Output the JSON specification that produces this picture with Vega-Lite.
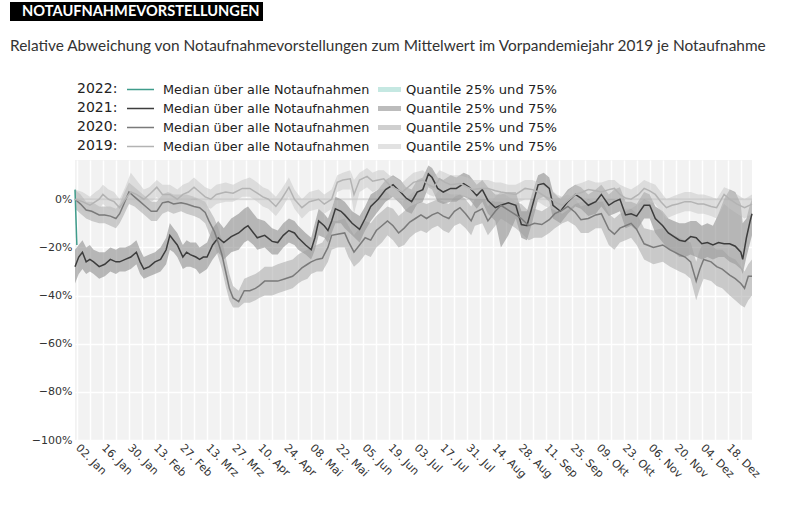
{
  "$schema": "https://vega.github.io/schema/vega-lite/v6.json",
  "background": "#ffffff",
  "padding": {"left": 10, "top": 2, "right": 5, "bottom": 5},
  "width": 677,
  "height": 280,
  "view": {"fill": "#f2f2f2", "stroke": null},
  "title": {
    "text": "Relative Abweichung von Notaufnahmevorstellungen zum Mittelwert im Vorpandemiejahr 2019 je Notaufnahme",
    "anchor": "start", "frame": "bounds", "font": "Lato", "fontSize": 15.4, "fontWeight": "normal", "color": "#333333", "offset": -52
  },
  "datasets": {
    "rows": [
      {"jahr": "2022", "tag": 1, "median": 4, "q25": 2, "q75": 6},
      {"jahr": "2022", "tag": 2, "median": -19, "q25": -21, "q75": -17},

      {"jahr": "2021", "tag": 1, "median": -28, "q25": -35, "q75": -21},
      {"jahr": "2021", "tag": 3, "median": -24, "q25": -31, "q75": -19},
      {"jahr": "2021", "tag": 5, "median": -22, "q25": -29, "q75": -17},
      {"jahr": "2021", "tag": 7, "median": -26, "q25": -31, "q75": -20},
      {"jahr": "2021", "tag": 9, "median": -25, "q25": -30, "q75": -19},
      {"jahr": "2021", "tag": 11, "median": -26, "q25": -31, "q75": -21},
      {"jahr": "2021", "tag": 14, "median": -28, "q25": -33, "q75": -22},
      {"jahr": "2021", "tag": 17, "median": -27, "q25": -32, "q75": -22},
      {"jahr": "2021", "tag": 20, "median": -25, "q25": -30, "q75": -20},
      {"jahr": "2021", "tag": 23, "median": -26, "q25": -31, "q75": -21},
      {"jahr": "2021", "tag": 25, "median": -26, "q25": -30, "q75": -20},
      {"jahr": "2021", "tag": 28, "median": -25, "q25": -30, "q75": -20},
      {"jahr": "2021", "tag": 31, "median": -24, "q25": -29, "q75": -19},
      {"jahr": "2021", "tag": 34, "median": -22, "q25": -27, "q75": -17},
      {"jahr": "2021", "tag": 36, "median": -26, "q25": -31, "q75": -21},
      {"jahr": "2021", "tag": 38, "median": -29, "q25": -33, "q75": -24},
      {"jahr": "2021", "tag": 41, "median": -28, "q25": -32, "q75": -23},
      {"jahr": "2021", "tag": 44, "median": -26, "q25": -31, "q75": -22},
      {"jahr": "2021", "tag": 47, "median": -25, "q25": -30, "q75": -20},
      {"jahr": "2021", "tag": 50, "median": -21, "q25": -27, "q75": -16},
      {"jahr": "2021", "tag": 52, "median": -15, "q25": -21, "q75": -10},
      {"jahr": "2021", "tag": 54, "median": -17, "q25": -22, "q75": -12},
      {"jahr": "2021", "tag": 56, "median": -19, "q25": -24, "q75": -14},
      {"jahr": "2021", "tag": 59, "median": -24, "q25": -29, "q75": -19},
      {"jahr": "2021", "tag": 61, "median": -22, "q25": -28, "q75": -17},
      {"jahr": "2021", "tag": 63, "median": -23, "q25": -28, "q75": -18},
      {"jahr": "2021", "tag": 66, "median": -24, "q25": -29, "q75": -18},
      {"jahr": "2021", "tag": 68, "median": -25, "q25": -31, "q75": -20},
      {"jahr": "2021", "tag": 70, "median": -24, "q25": -30, "q75": -19},
      {"jahr": "2021", "tag": 72, "median": -24, "q25": -29, "q75": -18},
      {"jahr": "2021", "tag": 75, "median": -19, "q25": -25, "q75": -12},
      {"jahr": "2021", "tag": 78, "median": -16, "q25": -22, "q75": -9},
      {"jahr": "2021", "tag": 81, "median": -18, "q25": -25, "q75": -12},
      {"jahr": "2021", "tag": 85, "median": -15.5, "q25": -22, "q75": -8},
      {"jahr": "2021", "tag": 89, "median": -14, "q25": -21, "q75": -6},
      {"jahr": "2021", "tag": 92, "median": -12, "q25": -18, "q75": -4},
      {"jahr": "2021", "tag": 94, "median": -11, "q25": -17, "q75": -3},
      {"jahr": "2021", "tag": 97, "median": -14, "q25": -19, "q75": -6},
      {"jahr": "2021", "tag": 99, "median": -16, "q25": -21, "q75": -8},
      {"jahr": "2021", "tag": 103, "median": -15, "q25": -20, "q75": -9},
      {"jahr": "2021", "tag": 107, "median": -17.5, "q25": -23, "q75": -12},
      {"jahr": "2021", "tag": 110, "median": -18, "q25": -23, "q75": -13},
      {"jahr": "2021", "tag": 113, "median": -15, "q25": -20, "q75": -10},
      {"jahr": "2021", "tag": 116, "median": -13, "q25": -18, "q75": -8},
      {"jahr": "2021", "tag": 119, "median": -14, "q25": -19, "q75": -9},
      {"jahr": "2021", "tag": 121, "median": -16, "q25": -21, "q75": -11},
      {"jahr": "2021", "tag": 125, "median": -19, "q25": -23, "q75": -14},
      {"jahr": "2021", "tag": 128, "median": -21, "q25": -25, "q75": -16},
      {"jahr": "2021", "tag": 130, "median": -16, "q25": -21, "q75": -10},
      {"jahr": "2021", "tag": 132, "median": -9, "q25": -15, "q75": -4},
      {"jahr": "2021", "tag": 135, "median": -11, "q25": -16, "q75": -6},
      {"jahr": "2021", "tag": 137, "median": -13, "q25": -18, "q75": -8},
      {"jahr": "2021", "tag": 139, "median": -9, "q25": -14, "q75": -4},
      {"jahr": "2021", "tag": 141, "median": -4, "q25": -10, "q75": 1},
      {"jahr": "2021", "tag": 144, "median": -5, "q25": -10, "q75": 0},
      {"jahr": "2021", "tag": 146, "median": -6.5, "q25": -12, "q75": -1},
      {"jahr": "2021", "tag": 150, "median": -10, "q25": -15, "q75": -5},
      {"jahr": "2021", "tag": 154, "median": -12.5, "q25": -18, "q75": -7},
      {"jahr": "2021", "tag": 157, "median": -8, "q25": -13, "q75": -3},
      {"jahr": "2021", "tag": 160, "median": -3, "q25": -9, "q75": 2},
      {"jahr": "2021", "tag": 164, "median": 0, "q25": -5, "q75": 4},
      {"jahr": "2021", "tag": 168, "median": 4, "q25": -1, "q75": 8},
      {"jahr": "2021", "tag": 172, "median": 6, "q25": 1, "q75": 10},
      {"jahr": "2021", "tag": 176, "median": 3, "q25": -2, "q75": 8},
      {"jahr": "2021", "tag": 179, "median": 0.5, "q25": -5, "q75": 5},
      {"jahr": "2021", "tag": 182, "median": -1, "q25": -6, "q75": 4},
      {"jahr": "2021", "tag": 185, "median": 3, "q25": -2, "q75": 8},
      {"jahr": "2021", "tag": 188, "median": 4, "q25": -1, "q75": 9},
      {"jahr": "2021", "tag": 191, "median": 10.5, "q25": 5, "q75": 14},
      {"jahr": "2021", "tag": 193, "median": 9, "q25": 4, "q75": 13},
      {"jahr": "2021", "tag": 196, "median": 4.5, "q25": -1, "q75": 9},
      {"jahr": "2021", "tag": 199, "median": 3, "q25": -2, "q75": 8},
      {"jahr": "2021", "tag": 203, "median": 4.5, "q25": -1, "q75": 10},
      {"jahr": "2021", "tag": 206, "median": 4.5, "q25": -1, "q75": 9},
      {"jahr": "2021", "tag": 210, "median": 6.5, "q25": 1, "q75": 11},
      {"jahr": "2021", "tag": 213, "median": 5, "q25": 0, "q75": 10},
      {"jahr": "2021", "tag": 217, "median": 1.5, "q25": -4, "q75": 6},
      {"jahr": "2021", "tag": 220, "median": 4, "q25": -1, "q75": 8},
      {"jahr": "2021", "tag": 223, "median": -0.5, "q25": -6, "q75": 5},
      {"jahr": "2021", "tag": 227, "median": -3.5, "q25": -9, "q75": 2},
      {"jahr": "2021", "tag": 230, "median": -2.5, "q25": -20, "q75": 2},
      {"jahr": "2021", "tag": 234, "median": -1.5, "q25": -15, "q75": 3},
      {"jahr": "2021", "tag": 238, "median": -2.5, "q25": -8, "q75": 3},
      {"jahr": "2021", "tag": 241, "median": -10.5, "q25": -16, "q75": -5},
      {"jahr": "2021", "tag": 244, "median": -11, "q25": -17, "q75": -5},
      {"jahr": "2021", "tag": 247, "median": -2.5, "q25": -9, "q75": 3},
      {"jahr": "2021", "tag": 250, "median": 6, "q25": 0, "q75": 10},
      {"jahr": "2021", "tag": 253, "median": 6.5, "q25": 1, "q75": 11},
      {"jahr": "2021", "tag": 256, "median": 4.5, "q25": -1, "q75": 9},
      {"jahr": "2021", "tag": 258, "median": -2.5, "q25": -8, "q75": 3},
      {"jahr": "2021", "tag": 262, "median": -5, "q25": -10, "q75": 0},
      {"jahr": "2021", "tag": 266, "median": -1, "q25": -6, "q75": 4},
      {"jahr": "2021", "tag": 270, "median": 2, "q25": -3, "q75": 6},
      {"jahr": "2021", "tag": 273, "median": 0.5, "q25": -4, "q75": 5},
      {"jahr": "2021", "tag": 277, "median": -2.5, "q25": -7, "q75": 2},
      {"jahr": "2021", "tag": 281, "median": -1, "q25": -6, "q75": 4},
      {"jahr": "2021", "tag": 284, "median": 2, "q25": -3, "q75": 6},
      {"jahr": "2021", "tag": 288, "median": -2.5, "q25": -7, "q75": 2},
      {"jahr": "2021", "tag": 291, "median": -1, "q25": -6, "q75": 4},
      {"jahr": "2021", "tag": 294, "median": 0, "q25": -5, "q75": 5},
      {"jahr": "2021", "tag": 297, "median": -6.5, "q25": -12, "q75": -1},
      {"jahr": "2021", "tag": 300, "median": -6, "q25": -11, "q75": -1},
      {"jahr": "2021", "tag": 303, "median": -7, "q25": -13, "q75": -2},
      {"jahr": "2021", "tag": 307, "median": -2.5, "q25": -8, "q75": 3},
      {"jahr": "2021", "tag": 310, "median": -2.5, "q25": -8, "q75": 2},
      {"jahr": "2021", "tag": 313, "median": -8, "q25": -14, "q75": -3},
      {"jahr": "2021", "tag": 317, "median": -11, "q25": -18, "q75": -5},
      {"jahr": "2021", "tag": 320, "median": -14, "q25": -21, "q75": -8},
      {"jahr": "2021", "tag": 323, "median": -15.5, "q25": -22, "q75": -9},
      {"jahr": "2021", "tag": 326, "median": -17, "q25": -24, "q75": -10},
      {"jahr": "2021", "tag": 329, "median": -17.5, "q25": -24, "q75": -10},
      {"jahr": "2021", "tag": 332, "median": -15.5, "q25": -23, "q75": -9},
      {"jahr": "2021", "tag": 335, "median": -16, "q25": -24, "q75": -9},
      {"jahr": "2021", "tag": 338, "median": -18.5, "q25": -25, "q75": -11},
      {"jahr": "2021", "tag": 341, "median": -18, "q25": -24, "q75": -10},
      {"jahr": "2021", "tag": 344, "median": -19, "q25": -25, "q75": -11},
      {"jahr": "2021", "tag": 347, "median": -18, "q25": -24, "q75": -6},
      {"jahr": "2021", "tag": 350, "median": -18.5, "q25": -24, "q75": 0},
      {"jahr": "2021", "tag": 353, "median": -18.5, "q25": -26, "q75": 4},
      {"jahr": "2021", "tag": 356, "median": -19.5, "q25": -27, "q75": 3},
      {"jahr": "2021", "tag": 359, "median": -22, "q25": -29, "q75": -2},
      {"jahr": "2021", "tag": 360, "median": -25, "q25": -31, "q75": -10},
      {"jahr": "2021", "tag": 362, "median": -16, "q25": -24, "q75": -8},
      {"jahr": "2021", "tag": 364, "median": -9, "q25": -18, "q75": -2},
      {"jahr": "2021", "tag": 365, "median": -6, "q25": -15, "q75": 0},

      {"jahr": "2020", "tag": 1, "median": 0, "q25": -4, "q75": 4},
      {"jahr": "2020", "tag": 4, "median": -2, "q25": -6, "q75": 2},
      {"jahr": "2020", "tag": 7, "median": -4.5, "q25": -8, "q75": -1},
      {"jahr": "2020", "tag": 10, "median": -5, "q25": -9, "q75": -1},
      {"jahr": "2020", "tag": 14, "median": -6.5, "q25": -10, "q75": -3},
      {"jahr": "2020", "tag": 17, "median": -6.5, "q25": -10, "q75": -3},
      {"jahr": "2020", "tag": 20, "median": -7, "q25": -11, "q75": -3},
      {"jahr": "2020", "tag": 23, "median": -8, "q25": -12, "q75": -4},
      {"jahr": "2020", "tag": 25, "median": -6, "q25": -10, "q75": -2},
      {"jahr": "2020", "tag": 27, "median": -2.5, "q25": -7, "q75": 2},
      {"jahr": "2020", "tag": 30, "median": 3, "q25": -2, "q75": 7},
      {"jahr": "2020", "tag": 33, "median": 1, "q25": -3, "q75": 5},
      {"jahr": "2020", "tag": 36, "median": -1, "q25": -5, "q75": 3},
      {"jahr": "2020", "tag": 39, "median": -3, "q25": -7, "q75": 1},
      {"jahr": "2020", "tag": 42, "median": -5, "q25": -9, "q75": -1},
      {"jahr": "2020", "tag": 45, "median": -5, "q25": -9, "q75": -1},
      {"jahr": "2020", "tag": 48, "median": -1.5, "q25": -6, "q75": 2},
      {"jahr": "2020", "tag": 51, "median": -1, "q25": -5, "q75": 3},
      {"jahr": "2020", "tag": 54, "median": -2, "q25": -6, "q75": 2},
      {"jahr": "2020", "tag": 58, "median": -1.5, "q25": -5, "q75": 2},
      {"jahr": "2020", "tag": 61, "median": -2, "q25": -6, "q75": 2},
      {"jahr": "2020", "tag": 65, "median": -3, "q25": -7, "q75": 1},
      {"jahr": "2020", "tag": 68, "median": -3.5, "q25": -8, "q75": 0},
      {"jahr": "2020", "tag": 71, "median": -5.5, "q25": -10, "q75": -1},
      {"jahr": "2020", "tag": 73, "median": -9, "q25": -14, "q75": -4},
      {"jahr": "2020", "tag": 76, "median": -13.5, "q25": -19, "q75": -8},
      {"jahr": "2020", "tag": 78, "median": -18, "q25": -24, "q75": -12},
      {"jahr": "2020", "tag": 80, "median": -23, "q25": -29, "q75": -17},
      {"jahr": "2020", "tag": 82, "median": -30, "q25": -36, "q75": -24},
      {"jahr": "2020", "tag": 84, "median": -37, "q25": -42, "q75": -31},
      {"jahr": "2020", "tag": 86, "median": -41, "q25": -45, "q75": -36},
      {"jahr": "2020", "tag": 89, "median": -42.5, "q25": -45, "q75": -38},
      {"jahr": "2020", "tag": 92, "median": -38, "q25": -43, "q75": -33},
      {"jahr": "2020", "tag": 95, "median": -38, "q25": -43, "q75": -32},
      {"jahr": "2020", "tag": 98, "median": -37, "q25": -42, "q75": -31},
      {"jahr": "2020", "tag": 100, "median": -36, "q25": -41, "q75": -30},
      {"jahr": "2020", "tag": 103, "median": -34, "q25": -40, "q75": -28},
      {"jahr": "2020", "tag": 107, "median": -34, "q25": -40, "q75": -28},
      {"jahr": "2020", "tag": 110, "median": -34, "q25": -39, "q75": -27},
      {"jahr": "2020", "tag": 114, "median": -33, "q25": -38, "q75": -26},
      {"jahr": "2020", "tag": 118, "median": -32, "q25": -37, "q75": -25},
      {"jahr": "2020", "tag": 121, "median": -30, "q25": -35, "q75": -23},
      {"jahr": "2020", "tag": 123, "median": -28.5, "q25": -34, "q75": -22},
      {"jahr": "2020", "tag": 126, "median": -27, "q25": -33, "q75": -21},
      {"jahr": "2020", "tag": 128, "median": -26, "q25": -31, "q75": -20},
      {"jahr": "2020", "tag": 131, "median": -25, "q25": -30, "q75": -19},
      {"jahr": "2020", "tag": 134, "median": -24.5, "q25": -30, "q75": -18},
      {"jahr": "2020", "tag": 137, "median": -20, "q25": -26, "q75": -14},
      {"jahr": "2020", "tag": 139, "median": -15, "q25": -21, "q75": -9},
      {"jahr": "2020", "tag": 142, "median": -14.5, "q25": -20, "q75": -9},
      {"jahr": "2020", "tag": 146, "median": -14, "q25": -20, "q75": -8},
      {"jahr": "2020", "tag": 148, "median": -17.5, "q25": -24, "q75": -11},
      {"jahr": "2020", "tag": 151, "median": -22, "q25": -28, "q75": -15},
      {"jahr": "2020", "tag": 154, "median": -19, "q25": -26, "q75": -12},
      {"jahr": "2020", "tag": 157, "median": -16, "q25": -23, "q75": -9},
      {"jahr": "2020", "tag": 160, "median": -17, "q25": -24, "q75": -10},
      {"jahr": "2020", "tag": 163, "median": -13, "q25": -20, "q75": -7},
      {"jahr": "2020", "tag": 166, "median": -11, "q25": -18, "q75": -5},
      {"jahr": "2020", "tag": 169, "median": -9, "q25": -15, "q75": -3},
      {"jahr": "2020", "tag": 172, "median": -11, "q25": -17, "q75": -4},
      {"jahr": "2020", "tag": 175, "median": -14, "q25": -20, "q75": -7},
      {"jahr": "2020", "tag": 178, "median": -12, "q25": -19, "q75": -5},
      {"jahr": "2020", "tag": 181, "median": -9.5, "q25": -16, "q75": -3},
      {"jahr": "2020", "tag": 184, "median": -8, "q25": -14, "q75": -2},
      {"jahr": "2020", "tag": 187, "median": -6.5, "q25": -13, "q75": -1},
      {"jahr": "2020", "tag": 190, "median": -8, "q25": -14, "q75": -2},
      {"jahr": "2020", "tag": 193, "median": -6.5, "q25": -12, "q75": -1},
      {"jahr": "2020", "tag": 196, "median": -5.5, "q25": -11, "q75": 0},
      {"jahr": "2020", "tag": 199, "median": -7, "q25": -13, "q75": -1},
      {"jahr": "2020", "tag": 202, "median": -8, "q25": -14, "q75": -2},
      {"jahr": "2020", "tag": 205, "median": -5, "q25": -11, "q75": 1},
      {"jahr": "2020", "tag": 208, "median": -3.5, "q25": -10, "q75": 2},
      {"jahr": "2020", "tag": 211, "median": -6, "q25": -12, "q75": 0},
      {"jahr": "2020", "tag": 214, "median": -9, "q25": -15, "q75": -3},
      {"jahr": "2020", "tag": 216, "median": -5.5, "q25": -11, "q75": 0},
      {"jahr": "2020", "tag": 220, "median": -4, "q25": -10, "q75": 2},
      {"jahr": "2020", "tag": 223, "median": -9, "q25": -15, "q75": -3},
      {"jahr": "2020", "tag": 227, "median": -5, "q25": -11, "q75": 1},
      {"jahr": "2020", "tag": 230, "median": -2.5, "q25": -8, "q75": 3},
      {"jahr": "2020", "tag": 234, "median": -4.5, "q25": -10, "q75": 1},
      {"jahr": "2020", "tag": 238, "median": -6.5, "q25": -12, "q75": -1},
      {"jahr": "2020", "tag": 241, "median": -8, "q25": -14, "q75": -2},
      {"jahr": "2020", "tag": 245, "median": -11, "q25": -17, "q75": -5},
      {"jahr": "2020", "tag": 248, "median": -10, "q25": -16, "q75": -4},
      {"jahr": "2020", "tag": 252, "median": -10.5, "q25": -16, "q75": -5},
      {"jahr": "2020", "tag": 256, "median": -8.5, "q25": -14, "q75": -3},
      {"jahr": "2020", "tag": 259, "median": -6, "q25": -12, "q75": 0},
      {"jahr": "2020", "tag": 263, "median": -4.5, "q25": -10, "q75": 1},
      {"jahr": "2020", "tag": 266, "median": -3, "q25": -9, "q75": 2},
      {"jahr": "2020", "tag": 270, "median": -5.5, "q25": -11, "q75": 0},
      {"jahr": "2020", "tag": 273, "median": -8.5, "q25": -14, "q75": -3},
      {"jahr": "2020", "tag": 277, "median": -8, "q25": -14, "q75": -2},
      {"jahr": "2020", "tag": 281, "median": -6.5, "q25": -12, "q75": -1},
      {"jahr": "2020", "tag": 284, "median": -6, "q25": -12, "q75": 0},
      {"jahr": "2020", "tag": 288, "median": -12.5, "q25": -19, "q75": -6},
      {"jahr": "2020", "tag": 291, "median": -14.5, "q25": -21, "q75": -8},
      {"jahr": "2020", "tag": 294, "median": -12, "q25": -18, "q75": -6},
      {"jahr": "2020", "tag": 297, "median": -11, "q25": -17, "q75": -5},
      {"jahr": "2020", "tag": 300, "median": -10, "q25": -16, "q75": -4},
      {"jahr": "2020", "tag": 303, "median": -12.5, "q25": -19, "q75": -6},
      {"jahr": "2020", "tag": 307, "median": -18.5, "q25": -25, "q75": -12},
      {"jahr": "2020", "tag": 312, "median": -20, "q25": -27, "q75": -13},
      {"jahr": "2020", "tag": 317, "median": -19, "q25": -26, "q75": -12},
      {"jahr": "2020", "tag": 321, "median": -21, "q25": -28, "q75": -14},
      {"jahr": "2020", "tag": 326, "median": -23, "q25": -30, "q75": -16},
      {"jahr": "2020", "tag": 329, "median": -24, "q25": -31, "q75": -17},
      {"jahr": "2020", "tag": 332, "median": -26, "q25": -33, "q75": -18},
      {"jahr": "2020", "tag": 335, "median": -34, "q25": -42, "q75": -26},
      {"jahr": "2020", "tag": 337, "median": -29, "q25": -37, "q75": -21},
      {"jahr": "2020", "tag": 339, "median": -25, "q25": -33, "q75": -18},
      {"jahr": "2020", "tag": 343, "median": -26, "q25": -34, "q75": -19},
      {"jahr": "2020", "tag": 346, "median": -28, "q25": -36, "q75": -21},
      {"jahr": "2020", "tag": 349, "median": -29, "q25": -37, "q75": -21},
      {"jahr": "2020", "tag": 353, "median": -31.5, "q25": -40, "q75": -24},
      {"jahr": "2020", "tag": 356, "median": -33, "q25": -42, "q75": -25},
      {"jahr": "2020", "tag": 359, "median": -35, "q25": -44, "q75": -28},
      {"jahr": "2020", "tag": 361, "median": -37, "q25": -45, "q75": -30},
      {"jahr": "2020", "tag": 363, "median": -32, "q25": -42, "q75": -27},
      {"jahr": "2020", "tag": 365, "median": -32, "q25": -40, "q75": -25},

      {"jahr": "2019", "tag": 1, "median": 0, "q25": -4, "q75": 4},
      {"jahr": "2019", "tag": 5, "median": -1, "q25": -5, "q75": 3},
      {"jahr": "2019", "tag": 9, "median": -2.5, "q25": -6, "q75": 1},
      {"jahr": "2019", "tag": 12, "median": -1, "q25": -5, "q75": 3},
      {"jahr": "2019", "tag": 14, "median": 0, "q25": -4, "q75": 4},
      {"jahr": "2019", "tag": 16, "median": 2, "q25": -2, "q75": 6},
      {"jahr": "2019", "tag": 19, "median": 0, "q25": -4, "q75": 4},
      {"jahr": "2019", "tag": 22, "median": -1, "q25": -5, "q75": 3},
      {"jahr": "2019", "tag": 25, "median": -3.5, "q25": -7, "q75": 0},
      {"jahr": "2019", "tag": 28, "median": 0, "q25": -4, "q75": 5},
      {"jahr": "2019", "tag": 31, "median": 3, "q25": -1, "q75": 11},
      {"jahr": "2019", "tag": 34, "median": 2, "q25": -2, "q75": 8},
      {"jahr": "2019", "tag": 38, "median": 0, "q25": -4, "q75": 4},
      {"jahr": "2019", "tag": 41, "median": 2, "q25": -2, "q75": 5},
      {"jahr": "2019", "tag": 45, "median": 5, "q25": 1, "q75": 8},
      {"jahr": "2019", "tag": 48, "median": 2, "q25": -2, "q75": 6},
      {"jahr": "2019", "tag": 52, "median": 2, "q25": -2, "q75": 6},
      {"jahr": "2019", "tag": 56, "median": 0, "q25": -4, "q75": 4},
      {"jahr": "2019", "tag": 59, "median": 2, "q25": -2, "q75": 6},
      {"jahr": "2019", "tag": 62, "median": 3, "q25": -1, "q75": 7},
      {"jahr": "2019", "tag": 65, "median": 5, "q25": 1, "q75": 9},
      {"jahr": "2019", "tag": 68, "median": 3, "q25": -1, "q75": 7},
      {"jahr": "2019", "tag": 71, "median": 1, "q25": -3, "q75": 5},
      {"jahr": "2019", "tag": 74, "median": 0, "q25": -4, "q75": 4},
      {"jahr": "2019", "tag": 77, "median": 2, "q25": -2, "q75": 6},
      {"jahr": "2019", "tag": 82, "median": 3, "q25": -1, "q75": 7},
      {"jahr": "2019", "tag": 86, "median": 2.5, "q25": -1, "q75": 6},
      {"jahr": "2019", "tag": 91, "median": 4.5, "q25": 1, "q75": 8},
      {"jahr": "2019", "tag": 95, "median": 4.5, "q25": 1, "q75": 9},
      {"jahr": "2019", "tag": 99, "median": 2.5, "q25": -1, "q75": 7},
      {"jahr": "2019", "tag": 102, "median": 1, "q25": -3, "q75": 5},
      {"jahr": "2019", "tag": 105, "median": 0, "q25": -4, "q75": 4},
      {"jahr": "2019", "tag": 109, "median": -3, "q25": -7, "q75": 1},
      {"jahr": "2019", "tag": 112, "median": 0, "q25": -4, "q75": 4},
      {"jahr": "2019", "tag": 116, "median": 5, "q25": 1, "q75": 9},
      {"jahr": "2019", "tag": 119, "median": 0, "q25": -4, "q75": 4},
      {"jahr": "2019", "tag": 123, "median": -3.5, "q25": -8, "q75": 0},
      {"jahr": "2019", "tag": 127, "median": -1, "q25": -5, "q75": 3},
      {"jahr": "2019", "tag": 132, "median": 0, "q25": -4, "q75": 4},
      {"jahr": "2019", "tag": 135, "median": -2, "q25": -6, "q75": 2},
      {"jahr": "2019", "tag": 139, "median": 0, "q25": -4, "q75": 4},
      {"jahr": "2019", "tag": 142, "median": 7, "q25": 3, "q75": 10},
      {"jahr": "2019", "tag": 145, "median": 8, "q25": 4, "q75": 11},
      {"jahr": "2019", "tag": 149, "median": 8.5, "q25": 4, "q75": 12},
      {"jahr": "2019", "tag": 151, "median": 2, "q25": -6, "q75": 8},
      {"jahr": "2019", "tag": 154, "median": 8, "q25": 3, "q75": 11},
      {"jahr": "2019", "tag": 158, "median": 9.5, "q25": 5, "q75": 13},
      {"jahr": "2019", "tag": 161, "median": 7.5, "q25": 3, "q75": 11},
      {"jahr": "2019", "tag": 164, "median": 8, "q25": 4, "q75": 12},
      {"jahr": "2019", "tag": 167, "median": 8.5, "q25": 4, "q75": 12},
      {"jahr": "2019", "tag": 170, "median": 6, "q25": 2, "q75": 10},
      {"jahr": "2019", "tag": 173, "median": 4.5, "q25": 0, "q75": 9},
      {"jahr": "2019", "tag": 177, "median": 3, "q25": -1, "q75": 7},
      {"jahr": "2019", "tag": 180, "median": 5, "q25": 1, "q75": 9},
      {"jahr": "2019", "tag": 183, "median": 7, "q25": 3, "q75": 11},
      {"jahr": "2019", "tag": 188, "median": 8, "q25": 4, "q75": 12},
      {"jahr": "2019", "tag": 191, "median": 6, "q25": 2, "q75": 10},
      {"jahr": "2019", "tag": 194, "median": 5, "q25": 1, "q75": 9},
      {"jahr": "2019", "tag": 197, "median": 8.5, "q25": 4, "q75": 12},
      {"jahr": "2019", "tag": 200, "median": 7, "q25": 3, "q75": 11},
      {"jahr": "2019", "tag": 203, "median": 6, "q25": 2, "q75": 10},
      {"jahr": "2019", "tag": 208, "median": 6.5, "q25": 2, "q75": 10},
      {"jahr": "2019", "tag": 212, "median": 5, "q25": 1, "q75": 9},
      {"jahr": "2019", "tag": 215, "median": 4, "q25": 0, "q75": 8},
      {"jahr": "2019", "tag": 219, "median": 4.5, "q25": 0, "q75": 8},
      {"jahr": "2019", "tag": 223, "median": 4.5, "q25": 0, "q75": 8},
      {"jahr": "2019", "tag": 227, "median": 3.5, "q25": -1, "q75": 7},
      {"jahr": "2019", "tag": 230, "median": 3, "q25": -1, "q75": 7},
      {"jahr": "2019", "tag": 234, "median": 2.5, "q25": -2, "q75": 6},
      {"jahr": "2019", "tag": 238, "median": 2, "q25": -2, "q75": 6},
      {"jahr": "2019", "tag": 243, "median": 4.5, "q25": 0, "q75": 8},
      {"jahr": "2019", "tag": 247, "median": 4, "q25": 0, "q75": 8},
      {"jahr": "2019", "tag": 250, "median": 3, "q25": -1, "q75": 7},
      {"jahr": "2019", "tag": 254, "median": 1, "q25": -3, "q75": 5},
      {"jahr": "2019", "tag": 257, "median": 0, "q25": -4, "q75": 4},
      {"jahr": "2019", "tag": 260, "median": -1.5, "q25": -5, "q75": 2},
      {"jahr": "2019", "tag": 263, "median": -2.5, "q25": -6, "q75": 1},
      {"jahr": "2019", "tag": 267, "median": 0, "q25": -4, "q75": 4},
      {"jahr": "2019", "tag": 270, "median": 2, "q25": -2, "q75": 6},
      {"jahr": "2019", "tag": 274, "median": 3, "q25": -1, "q75": 7},
      {"jahr": "2019", "tag": 277, "median": 4, "q25": 0, "q75": 8},
      {"jahr": "2019", "tag": 281, "median": 3.5, "q25": -1, "q75": 7},
      {"jahr": "2019", "tag": 284, "median": 3, "q25": -1, "q75": 7},
      {"jahr": "2019", "tag": 288, "median": 4, "q25": 0, "q75": 8},
      {"jahr": "2019", "tag": 291, "median": 4.5, "q25": 0, "q75": 8},
      {"jahr": "2019", "tag": 294, "median": 2, "q25": -2, "q75": 6},
      {"jahr": "2019", "tag": 297, "median": 0.5, "q25": -4, "q75": 5},
      {"jahr": "2019", "tag": 300, "median": 0, "q25": -4, "q75": 4},
      {"jahr": "2019", "tag": 304, "median": 2, "q25": -2, "q75": 6},
      {"jahr": "2019", "tag": 307, "median": 4.5, "q25": 0, "q75": 8},
      {"jahr": "2019", "tag": 310, "median": 3.5, "q25": -1, "q75": 7},
      {"jahr": "2019", "tag": 313, "median": 2, "q25": -2, "q75": 6},
      {"jahr": "2019", "tag": 316, "median": -1, "q25": -5, "q75": 3},
      {"jahr": "2019", "tag": 319, "median": -3.5, "q25": -8, "q75": 0},
      {"jahr": "2019", "tag": 322, "median": -2.5, "q25": -7, "q75": 1},
      {"jahr": "2019", "tag": 325, "median": -2, "q25": -6, "q75": 2},
      {"jahr": "2019", "tag": 329, "median": -1, "q25": -5, "q75": 3},
      {"jahr": "2019", "tag": 332, "median": -1, "q25": -5, "q75": 3},
      {"jahr": "2019", "tag": 336, "median": -2, "q25": -6, "q75": 2},
      {"jahr": "2019", "tag": 339, "median": -2, "q25": -6, "q75": 2},
      {"jahr": "2019", "tag": 343, "median": -3, "q25": -7, "q75": 1},
      {"jahr": "2019", "tag": 346, "median": -3.5, "q25": -8, "q75": 0},
      {"jahr": "2019", "tag": 350, "median": 2, "q25": -2, "q75": 5},
      {"jahr": "2019", "tag": 353, "median": 0, "q25": -4, "q75": 4},
      {"jahr": "2019", "tag": 357, "median": -2, "q25": -6, "q75": 2},
      {"jahr": "2019", "tag": 361, "median": -3.5, "q25": -8, "q75": 0},
      {"jahr": "2019", "tag": 365, "median": -2, "q25": -6, "q75": 2}
    ]
  },
  "data": {"name": "rows"},
  "encoding": {
    "x": {
      "field": "tag", "type": "quantitative",
      "scale": {"domain": [1, 365], "nice": false, "zero": false},
      "axis": {
        "title": null,
        "values": [2,9,16,23,30,37,44,51,58,65,72,79,86,93,100,107,114,121,128,135,142,149,156,163,170,177,184,191,198,205,212,219,226,233,240,247,254,261,268,275,282,289,296,303,310,317,324,331,338,345,352,359],
        "labelExpr": "(datum.value - 2) % 14 == 0 ? (timeFormat(datetime(2022, 0, datum.value), '%d') + '. ' + ['Jan','Feb','Mrz','Apr','Mai','Jun','Jul','Aug','Sep','Okt','Nov','Dez'][month(datetime(2022, 0, datum.value))]) : ''",
        "grid": true, "gridColor": "#ffffff", "gridWidth": 1.5,
        "ticks": false, "domain": false,
        "labelAngle": 45, "labelAlign": "left", "labelBaseline": "middle", "labelPadding": 6,
        "labelFont": "DejaVu Sans", "labelFontSize": 11, "labelColor": "#333333",
        "labelOverlap": false, "labelFlush": false, "labelBound": false
      }
    }
  },
  "layer": [
    {
      "data": {"values": [{"z": 0}]},
      "mark": {"type": "rule", "color": "#d9d9d9", "strokeWidth": 2},
      "encoding": {"y": {"field": "z", "type": "quantitative"}, "x": null}
    },
    {
      "data": {"values": [{"h": "NOTAUFNAHMEVORSTELLUNGEN"}]},
      "mark": {"type": "point", "opacity": 0},
      "encoding": {
        "x": null,
        "shape": {
          "field": "h", "type": "nominal",
          "legend": {
            "orient": "none", "legendX": -65, "legendY": -158, "title": null,
            "padding": 2.5, "fillColor": "#000000", "strokeColor": null,
            "labelExpr": "datum.label + '\u00a0\u00a0\u00a0\u00a0'",
            "labelFont": "Lato", "labelFontWeight": "bold", "labelFontSize": 14.6, "labelColor": "#ffffff",
            "labelLimit": 0, "labelOffset": -5,
            "symbolSize": 0, "symbolOpacity": 0, "symbolStrokeWidth": 0, "clipHeight": 14
          }
        }
      }
    },
    {
      "mark": {"type": "area", "fillOpacity": 0.5},
      "encoding": {
        "y": {
          "field": "q25", "type": "quantitative",
          "scale": {"domain": [-100, 16.3], "nice": false, "zero": false},
          "axis": {
            "title": null, "values": [-100, -80, -60, -40, -20, 0],
            "labelExpr": "datum.label + '%'",
            "grid": true, "gridColor": "#ffffff", "gridWidth": 1.5,
            "ticks": false, "domain": false, "labelPadding": 3, "minExtent": 65,
            "labelFont": "DejaVu Sans", "labelFontSize": 11, "labelColor": "#333333"
          }
        },
        "y2": {"field": "q75"},
        "fill": {
          "field": "jahr", "type": "nominal", "sort": "descending",
          "scale": {"range": ["#8bd1c5", "#7a7a7a", "#a0a0a0", "#c6c6c6"]},
          "legend": {
            "orient": "none", "legendX": 303, "legendY": -78, "title": null, "padding": 0,
            "labelExpr": "'Quantile 25% und 75%'", "labelLimit": 0,
            "labelFont": "DejaVu Sans", "labelFontSize": 13.1, "labelColor": "#222222", "labelOffset": 5,
            "symbolType": "M-1,-0.22L1,-0.22L1,0.22L-1,0.22Z", "symbolSize": 529, "symbolOpacity": 0.5,
            "symbolStrokeWidth": 0, "clipHeight": 15, "rowPadding": 4
          }
        }
      }
    },
    {
      "mark": {"type": "line", "strokeWidth": 1.5},
      "encoding": {
        "y": {"field": "median", "type": "quantitative"},
        "stroke": {
          "field": "jahr", "type": "nominal",
          "scale": {"domain": ["2022", "2021", "2020", "2019"], "range": ["#3f9c8b", "#3d3d3d", "#7a7a7a", "#b3b3b3"]},
          "legend": {
            "orient": "none", "legendX": 2, "legendY": -78, "padding": 0,
            "title": ["2022:", "2021:", "2020:", "2019:"], "titleOrient": "left", "titleAnchor": "start",
            "titleBaseline": "top", "titleFont": "DejaVu Sans", "titleFontSize": 14, "titleFontWeight": "normal",
            "titleColor": "#222222", "titleLineHeight": 19, "titlePadding": 8,
            "labelExpr": "'Median über alle Notaufnahmen'", "labelLimit": 0,
            "labelFont": "DejaVu Sans", "labelFontSize": 12.8, "labelColor": "#222222", "labelOffset": 8,
            "symbolType": "stroke", "symbolSize": 729, "symbolStrokeWidth": 1.5, "clipHeight": 15, "rowPadding": 4
          }
        }
      }
    }
  ]
}
